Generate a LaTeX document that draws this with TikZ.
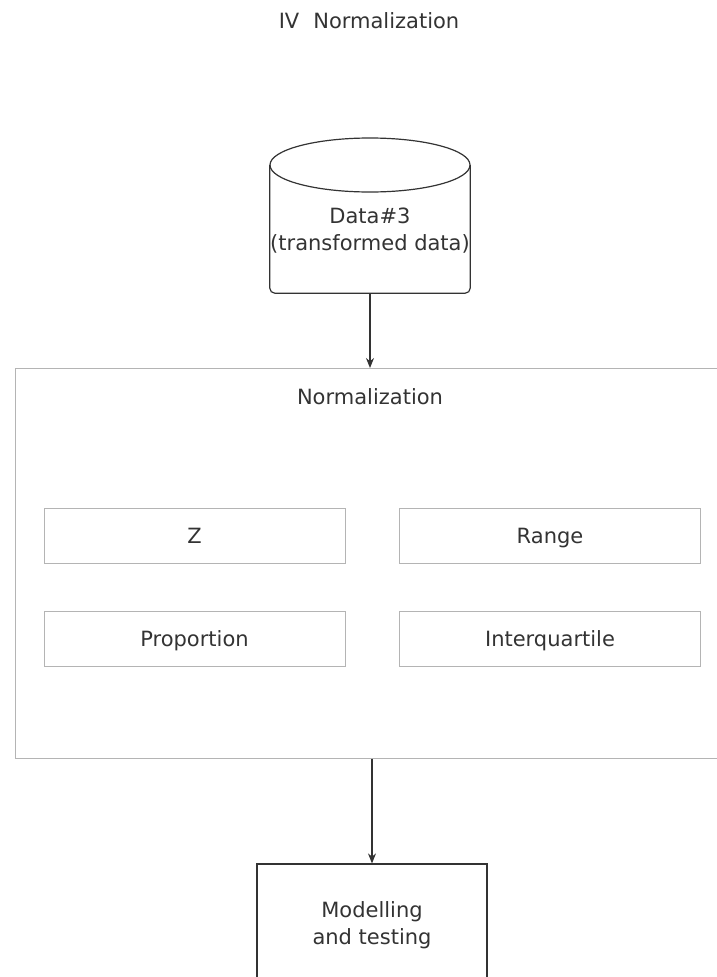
\documentclass[tikz,border=0pt]{standalone}
\usepackage{fontspec}
\setmainfont{DejaVu Sans}
\usetikzlibrary{arrows.meta}
\definecolor{ink}{HTML}{333333}
\definecolor{faint}{HTML}{B4B4B4}
\begin{document}
\begin{tikzpicture}[x=1pt,y=-1pt,
  every node/.style={text=ink, font=\fontsize{21}{27}\selectfont, align=center, inner sep=0pt},
  darkline/.style={draw=ink, line width=1.2pt},
  lightbox/.style={draw=faint, line width=0.9pt, rectangle},
  method/.style={lightbox, minimum width=301pt, minimum height=55pt, text height=19.3pt, text depth=4pt},
  flow/.style={draw=ink, line width=1.2pt, -{Stealth[length=10pt,width=8pt]}}]
  \useasboundingbox (0,0) rectangle (717,977);

  % heading
  \node (heading) at (369,21) {IV\hspace{14pt}Normalization};

  % data store (cylinder with flat base)
  \node[minimum width=200pt, minimum height=155pt] (data) at (370,215.5) {};
  \node (datatext) at (370,231) {Data\#3\\(transformed data)};
  \draw[darkline] (data.center |- 0,165) ellipse [x radius=100pt, y radius=27pt];
  \draw[darkline, rounded corners=5pt]
    (data.west |- 0,165) -- (data.south west) -- (data.south east) -- (data.east |- 0,165);

  % normalization group
  \node[lightbox, minimum width=703pt, minimum height=390pt, anchor=north west] (norm) at (15,368) {};
  \node (normtitle) at (370,397) {Normalization};

  \node[method] (z)     at (194.5,535.5) {Z};
  \node[method] (range) at (550,535.5)   {Range};
  \node[method] (prop)  at (194.5,639)   {Proportion};
  \node[method] (iqr)   at (550,639)     {Interquartile};

  % next stage
  \node[darkline, rectangle, minimum width=230pt, minimum height=122pt] (model) at (372,925) {Modelling\\and testing};

  % connectors
  \draw[flow] (data.south) -- (data.south |- norm.north);
  \draw[flow] (norm.south -| model.north) -- (model.north);
\end{tikzpicture}
\end{document}
